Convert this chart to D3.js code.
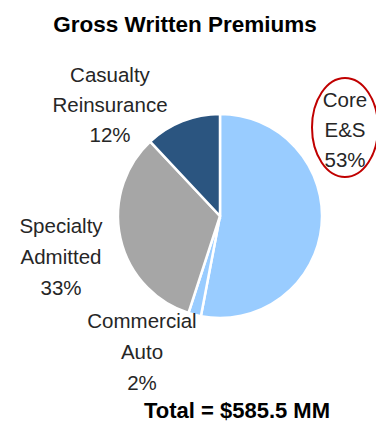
<!DOCTYPE html>
<meta charset="utf-8">
<html>
<style>
  body { margin: 0; background: #fff; }
  text { font-family: "Liberation Sans", Arial, sans-serif; }
  .lbl { font-size: 20.5px; fill: #262626; }
  .ttl { font-size: 22.5px; font-weight: bold; fill: #000; }
</style>
<body>
<svg width="376" height="425"></svg>
<script src="https://d3js.org/d3.v7.min.js"></script>
<script>
// data
var segments = ["Core E&S", "Commercial Auto", "Specialty Admitted", "Casualty Reinsurance"];
var shares = [53, 2, 33, 12];
var colors = ["#99CCFF", "#99CCFF", "#A6A6A6", "#2B5580"];
var labelLines = [["Core", "E&S", "53%"], ["Commercial", "Auto", "2%"], ["Specialty", "Admitted", "33%"], ["Casualty", "Reinsurance", "12%"]];

var svg = d3.select("svg");
var cx = 220, cy = 216, r = 102;

svg.append("text").attr("class", "ttl")
  .attr("x", 185).attr("y", 32)
  .attr("text-anchor", "middle")
  .text("Gross Written Premiums");

var pie = d3.pie().sort(null).value(function(d) { return d; });
var arc = d3.arc().innerRadius(0).outerRadius(r);
var arcs = pie(shares);

var g = svg.append("g").attr("transform", "translate(" + cx + "," + cy + ")");
g.selectAll("path").data(arcs).enter().append("path")
  .attr("d", arc)
  .attr("fill", function(d, i) { return colors[i]; })
  .attr("stroke", "#fff")
  .attr("stroke-width", 2.5);

// label anchor points (text centres, first line baseline)
var labelPos = [[345, 107], [142, 328], [61, 233], [110, 82]];
var lineGap = [30, 31, 31, 30];
labelLines.forEach(function(lines, i) {
  var t = svg.append("text").attr("class", "lbl").attr("text-anchor", "middle");
  lines.forEach(function(s, j) {
    t.append("tspan").attr("x", labelPos[i][0]).attr("y", labelPos[i][1] + j * lineGap[i]).text(s);
  });
});

// highlight ring round Core E&S
svg.append("ellipse")
  .attr("cx", 345).attr("cy", 127.5)
  .attr("rx", 33).attr("ry", 49.5)
  .attr("fill", "none")
  .attr("stroke", "#C00000")
  .attr("stroke-width", 2);

svg.append("text").attr("class", "ttl")
  .attr("x", 237).attr("y", 418)
  .attr("text-anchor", "middle")
  .style("font-size", "22px")
  .text("Total = $585.5 MM");
</script>
</body>
</html>
